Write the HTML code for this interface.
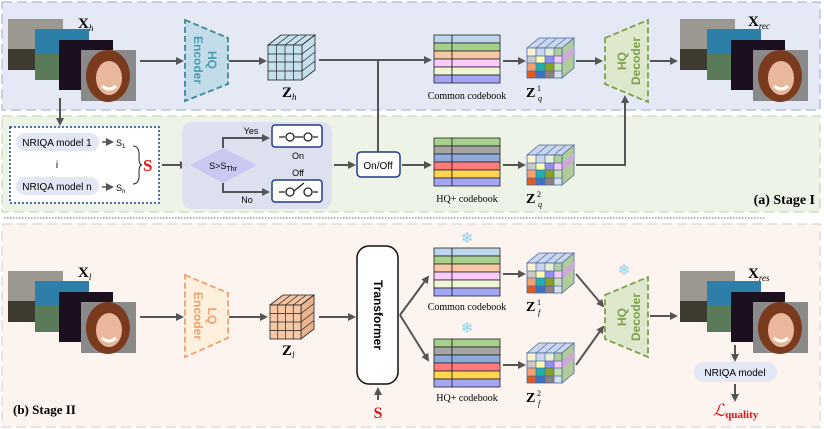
<!DOCTYPE html>
<html><head><meta charset="utf-8"><style>
html,body{margin:0;padding:0;background:#fff}
svg{display:block}
text{font-family:"Liberation Sans",sans-serif}
.serif{font-family:"Liberation Serif",serif}
</style></head><body>
<svg width="824" height="429" viewBox="0 0 824 429" xmlns="http://www.w3.org/2000/svg">
<defs>
<marker id="ar" markerWidth="8" markerHeight="8" refX="6" refY="4" orient="auto" markerUnits="userSpaceOnUse">
<path d="M0,0 L8,4 L0,8 Z" fill="#555"/></marker>
<g id="face">
<rect width="55" height="51" fill="#8a8a8a"/>
<ellipse cx="27" cy="26" rx="22" ry="26" fill="#7a3a1e"/>
<ellipse cx="28" cy="28" rx="13" ry="17" fill="#e9b79c"/>
<path d="M21 36 Q28 42 35 36" stroke="#fff" stroke-width="3" fill="none"/>
</g>
<g id="stack">
<rect x="0" y="0" width="55" height="51" fill="#9a9890"/><rect x="0" y="30" width="27" height="21" fill="#3d3a30"/>
<rect x="27" y="10" width="54" height="51" fill="#2c7fa8"/><rect x="27" y="35" width="54" height="26" fill="#5a7a5a"/>
<rect x="51" y="21" width="54" height="50" fill="#1a1020"/>
<use href="#face" x="73" y="31"/>
</g>
<g id="cb1">
<rect x="0" y="0" width="18" height="8" fill="#bcd5ec" stroke="#222" stroke-width=".8"/><rect x="18" y="0" width="48" height="8" fill="#bcd5ec" stroke="#222" stroke-width=".8"/>
<rect x="0" y="8" width="18" height="8" fill="#a8d08d" stroke="#222" stroke-width=".8"/><rect x="18" y="8" width="48" height="8" fill="#a8d08d" stroke="#222" stroke-width=".8"/>
<rect x="0" y="16" width="18" height="8" fill="#f7c8a6" stroke="#222" stroke-width=".8"/><rect x="18" y="16" width="48" height="8" fill="#f7c8a6" stroke="#222" stroke-width=".8"/>
<rect x="0" y="24" width="18" height="8" fill="#f9c9f9" stroke="#222" stroke-width=".8"/><rect x="18" y="24" width="48" height="8" fill="#f9c9f9" stroke="#222" stroke-width=".8"/>
<rect x="0" y="32" width="18" height="8" fill="#eef5d5" stroke="#222" stroke-width=".8"/><rect x="18" y="32" width="48" height="8" fill="#eef5d5" stroke="#222" stroke-width=".8"/>
<rect x="0" y="40" width="18" height="8" fill="#a5a5f5" stroke="#222" stroke-width=".8"/><rect x="18" y="40" width="48" height="8" fill="#a5a5f5" stroke="#222" stroke-width=".8"/>
</g>
<g id="cb2">
<rect x="0" y="0" width="18" height="8" fill="#a8d08d" stroke="#222" stroke-width=".8"/><rect x="18" y="0" width="48" height="8" fill="#a8d08d" stroke="#222" stroke-width=".8"/>
<rect x="0" y="8" width="18" height="8" fill="#a5a5a5" stroke="#222" stroke-width=".8"/><rect x="18" y="8" width="48" height="8" fill="#a5a5a5" stroke="#222" stroke-width=".8"/>
<rect x="0" y="16" width="18" height="8" fill="#8eaadb" stroke="#222" stroke-width=".8"/><rect x="18" y="16" width="48" height="8" fill="#8eaadb" stroke="#222" stroke-width=".8"/>
<rect x="0" y="24" width="18" height="8" fill="#ff7b7b" stroke="#222" stroke-width=".8"/><rect x="18" y="24" width="48" height="8" fill="#ff7b7b" stroke="#222" stroke-width=".8"/>
<rect x="0" y="32" width="18" height="8" fill="#ffd54f" stroke="#222" stroke-width=".8"/><rect x="18" y="32" width="48" height="8" fill="#ffd54f" stroke="#222" stroke-width=".8"/>
<rect x="0" y="40" width="18" height="8" fill="#a5a5f5" stroke="#222" stroke-width=".8"/><rect x="18" y="40" width="48" height="8" fill="#a5a5f5" stroke="#222" stroke-width=".8"/>
</g>
<g id="qcube">
<path d="M0,10 L12,0 L47,0 L35,10 Z" fill="#c9d6ee" stroke="#4a6a9a" stroke-width=".8"/>
<path d="M9,10L21,0M18,10L30,0M27,10L39,0" stroke="#4a6a9a" stroke-width=".7"/>
<path d="M35,10 L47,0 L47,30 L35,40 Z" fill="#b0cc9a" stroke="#4a6a9a" stroke-width=".8"/>
<path d="M35,18 L47,8 L47,16 L35,26Z" fill="#d0a8d8"/>
<rect x="0" y="10" width="9" height="8" fill="#fdf3d0"/><rect x="9" y="10" width="9" height="8" fill="#c9d6ee"/><rect x="18" y="10" width="9" height="8" fill="#e6ecd8"/><rect x="27" y="10" width="8" height="8" fill="#b0cc9a"/>
<rect x="0" y="18" width="9" height="7" fill="#c8c8c8"/><rect x="9" y="18" width="9" height="7" fill="#ffffb0"/><rect x="18" y="18" width="9" height="7" fill="#9090f0"/><rect x="27" y="18" width="8" height="7" fill="#f9c9f9"/>
<rect x="0" y="25" width="9" height="8" fill="#f4a070"/><rect x="9" y="25" width="9" height="8" fill="#20b0b0"/><rect x="18" y="25" width="9" height="8" fill="#8aa020"/><rect x="27" y="25" width="8" height="8" fill="#c8e0b8"/>
<rect x="0" y="33" width="9" height="7" fill="#e05a20"/><rect x="9" y="33" width="9" height="7" fill="#4070c0"/><rect x="18" y="33" width="9" height="7" fill="#908080"/><rect x="27" y="33" width="8" height="7" fill="#d8e0f0"/>
<path d="M0,18H35M0,25H35M0,33H35M9,10V40M18,10V40M27,10V40" stroke="#4a6a9a" stroke-width=".7"/>
<rect x="0" y="10" width="35" height="30" fill="none" stroke="#4a6a9a" stroke-width=".8"/>
</g>
</defs>

<!-- panels -->
<rect x="2" y="2" width="818" height="108" fill="#e5e9f5" stroke="#b8c2da" stroke-width="1.5" stroke-dasharray="10,5"/>
<rect x="2" y="116" width="818" height="96" fill="#eef3e7" stroke="#cfe0bf" stroke-width="1.5" stroke-dasharray="10,5"/>
<line x1="4" y1="218" x2="765" y2="218" stroke="#666" stroke-width="1" stroke-dasharray="1.5,1.5"/>
<rect x="2" y="224" width="818" height="203" fill="#fdf4f0" stroke="#ddd" stroke-width="1.5" stroke-dasharray="10,5"/>

<!-- Stage I top -->
<use href="#stack" x="8" y="19"/>
<text x="78" y="28" class="serif" font-size="15" font-weight="bold">X<tspan font-size="9" font-style="italic" font-weight="normal" dy="3">h</tspan></text>
<line x1="140" y1="61" x2="182" y2="61" stroke="#555" stroke-width="2" marker-end="url(#ar)"/>
<path d="M185,20 L228,38 L228,84 L185,101 Z" fill="#c2dcea" stroke="#3c8a9a" stroke-width="1.8" stroke-dasharray="6,3"/>
<text transform="translate(205,60) rotate(90)" text-anchor="middle" font-size="12" font-weight="bold" fill="#4a9ab0" dy="4"><tspan x="0" dy="-3">HQ</tspan><tspan x="0" dy="14">Encoder</tspan></text>
<line x1="229" y1="61" x2="265" y2="61" stroke="#555" stroke-width="2" marker-end="url(#ar)"/>
<g transform="translate(268,35)">
<path d="M0,10 L13,0 L47,0 L34,10 Z" fill="#c4e0ec" stroke="#222" stroke-width=".8"/>
<path d="M34,10 L47,0 L47,35 L34,45 Z" fill="#c4e0ec" stroke="#222" stroke-width=".8"/>
<rect x="0" y="10" width="34" height="35" fill="#c4e0ec" stroke="#222" stroke-width=".8"/>
<path d="M0,19H34M0,27H34M0,36H34M8.5,10V45M17,10V45M25.5,10V45M8.5,10L21.5,0M17,10L30,0M25.5,10L38.5,0M34,19L47,9M34,27L47,17M34,36L47,26" stroke="#222" stroke-width=".7"/>
</g>
<text x="282" y="97" class="serif" font-size="15" font-weight="bold">Z<tspan font-size="9" font-style="italic" font-weight="normal" dy="3">h</tspan></text>
<line x1="319" y1="60" x2="430" y2="60" stroke="#555" stroke-width="2" marker-end="url(#ar)"/>
<line x1="378" y1="60" x2="378" y2="152" stroke="#555" stroke-width="2"/>
<use href="#cb1" x="434" y="35"/>
<text x="467" y="99" text-anchor="middle" class="serif" font-size="10">Common codebook</text>
<line x1="503" y1="61" x2="524" y2="61" stroke="#555" stroke-width="2" marker-end="url(#ar)"/>
<use href="#qcube" x="527" y="38"/>
<text x="526" y="97" class="serif" font-size="14" font-weight="bold">Z</text><text x="537" y="91" class="serif" font-size="8">1</text><text x="538" y="101" class="serif" font-size="8" font-style="italic">q</text>
<line x1="576" y1="61" x2="601" y2="61" stroke="#555" stroke-width="2" marker-end="url(#ar)"/>
<path d="M605,38 L648,20 L648,102 L605,84 Z" fill="#dde8cc" stroke="#7ea04a" stroke-width="1.8" stroke-dasharray="6,3"/>
<text transform="translate(629,61) rotate(-90)" text-anchor="middle" font-size="12" font-weight="bold" fill="#7ea04a" dy="4"><tspan x="0" dy="-3">HQ</tspan><tspan x="0" dy="14">Decoder</tspan></text>
<line x1="650" y1="61" x2="676" y2="61" stroke="#555" stroke-width="2" marker-end="url(#ar)"/>
<use href="#stack" x="680" y="19"/>
<text x="748" y="26" class="serif" font-size="15" font-weight="bold">X<tspan font-size="9" font-style="italic" font-weight="normal" dy="3">rec</tspan></text>

<!-- Stage I bottom -->
<line x1="60" y1="98" x2="60" y2="124" stroke="#555" stroke-width="2" marker-end="url(#ar)"/>
<rect x="10" y="127" width="149" height="76" fill="#fff" stroke="#1f3d8a" stroke-width="1.5" stroke-dasharray="2,2"/>
<rect x="16" y="133" width="83" height="18" rx="9" fill="#e3e6f3"/>
<text x="57" y="146" text-anchor="middle" font-size="10">NRIQA model 1</text>
<line x1="102" y1="142" x2="112" y2="142" stroke="#555" stroke-width="1.5" marker-end="url(#ar)"/>
<text x="116" y="146" font-size="9">S<tspan font-size="6" dy="2">1</tspan></text>
<text x="57" y="168" text-anchor="middle" font-size="10">i</text>
<rect x="16" y="177" width="83" height="18" rx="9" fill="#e3e6f3"/>
<text x="57" y="190" text-anchor="middle" font-size="10">NRIQA model n</text>
<line x1="102" y1="187" x2="112" y2="187" stroke="#555" stroke-width="1.5" marker-end="url(#ar)"/>
<text x="116" y="191" font-size="9">S<tspan font-size="6" dy="2">n</tspan></text>
<path d="M133,146 Q140,146 139,158 Q139,165 142,165 Q139,165 139,172 Q140,184 133,184" fill="none" stroke="#222" stroke-width="1"/>
<text x="143" y="171" class="serif" font-size="17" font-weight="bold" fill="#e01818">S</text>
<line x1="162" y1="165" x2="186" y2="165" stroke="#555" stroke-width="2" marker-end="url(#ar)"/>
<rect x="182" y="122" width="150" height="87" rx="10" fill="#dde1ef"/>
<path d="M190,165 L223,148 L257,165 L223,183 Z" fill="#c8c8f0"/>
<text x="223" y="169" text-anchor="middle" font-size="9">S&gt;S<tspan font-size="7" dy="2">Thr</tspan></text>
<path d="M223,148 V138 H268" fill="none" stroke="#555" stroke-width="2" marker-end="url(#ar)"/>
<path d="M223,183 V192 H268" fill="none" stroke="#555" stroke-width="2" marker-end="url(#ar)"/>
<text x="251" y="134" text-anchor="middle" font-size="9">Yes</text>
<text x="247" y="203" text-anchor="middle" font-size="9">No</text>
<rect x="272" y="125" width="50" height="22" rx="3" fill="#fff" stroke="#1f3d8a" stroke-width="1.5"/>
<path d="M279,137 H285 M295,137 H303 M313,137 H318" stroke="#222" stroke-width="1.3"/><circle cx="290" cy="137" r="4" fill="none" stroke="#222" stroke-width="1.3"/><circle cx="308" cy="137" r="4" fill="none" stroke="#222" stroke-width="1.3"/>
<text x="298" y="159" text-anchor="middle" font-size="9">On</text>
<text x="298" y="176" text-anchor="middle" font-size="9">Off</text>
<rect x="272" y="180" width="50" height="22" rx="3" fill="#fff" stroke="#1f3d8a" stroke-width="1.5"/>
<path d="M279,192 H285 M294,191 L304,183 M313,192 H318" stroke="#222" stroke-width="1.3"/><circle cx="290" cy="192" r="4" fill="none" stroke="#222" stroke-width="1.3"/><circle cx="308" cy="192" r="4" fill="none" stroke="#222" stroke-width="1.3"/>
<line x1="334" y1="165" x2="354" y2="165" stroke="#555" stroke-width="2" marker-end="url(#ar)"/>
<rect x="357" y="152" width="43" height="25" rx="4" fill="#fff" stroke="#1f3d8a" stroke-width="1.5"/>
<text x="378" y="169" text-anchor="middle" font-size="10">On/Off</text>
<line x1="402" y1="165" x2="430" y2="165" stroke="#555" stroke-width="2" marker-end="url(#ar)"/>
<use href="#cb2" x="434" y="138"/>
<text x="467" y="202" text-anchor="middle" class="serif" font-size="10">HQ+ codebook</text>
<line x1="503" y1="165" x2="524" y2="165" stroke="#555" stroke-width="2" marker-end="url(#ar)"/>
<use href="#qcube" x="527" y="145"/>
<text x="526" y="203" class="serif" font-size="14" font-weight="bold">Z</text><text x="537" y="197" class="serif" font-size="8">2</text><text x="538" y="207" class="serif" font-size="8" font-style="italic">q</text>
<path d="M576,165 H625 V97" fill="none" stroke="#555" stroke-width="2" marker-end="url(#ar)"/>
<text x="815" y="204" text-anchor="end" class="serif" font-size="14" font-weight="bold">(a) Stage I</text>

<!-- Stage II -->
<use href="#stack" x="8" y="271"/>
<text x="78" y="277" class="serif" font-size="15" font-weight="bold">X<tspan font-size="9" font-style="italic" font-weight="normal" dy="3">l</tspan></text>
<line x1="140" y1="317" x2="182" y2="317" stroke="#555" stroke-width="2" marker-end="url(#ar)"/>
<path d="M185,275 L228,293 L228,338 L185,357 Z" fill="#fdf0dc" stroke="#f0a070" stroke-width="1.8" stroke-dasharray="6,3"/>
<text transform="translate(205,316) rotate(90)" text-anchor="middle" font-size="12" font-weight="bold" fill="#f0a070" dy="4"><tspan x="0" dy="-3">LQ</tspan><tspan x="0" dy="14">Encoder</tspan></text>
<line x1="229" y1="317" x2="266" y2="317" stroke="#555" stroke-width="2" marker-end="url(#ar)"/>
<g transform="translate(270,295)">
<path d="M0,10 L13,0 L44,0 L31,10 Z" fill="#f4c4a0" stroke="#222" stroke-width=".8"/>
<path d="M31,10 L44,0 L44,34 L31,44 Z" fill="#e8b490" stroke="#222" stroke-width=".8"/>
<rect x="0" y="10" width="31" height="34" fill="#f6c8a6" stroke="#222" stroke-width=".8"/>
<path d="M0,18.5H31M0,27H31M0,35.5H31M7.75,10V44M15.5,10V44M23.25,10V44M7.75,10L20.75,0M15.5,10L28.5,0M23.25,10L36.25,0M31,18.5L44,8.5M31,27L44,17M31,35.5L44,25.5" stroke="#222" stroke-width=".7"/>
</g>
<text x="282" y="355" class="serif" font-size="15" font-weight="bold">Z<tspan font-size="9" font-style="italic" font-weight="normal" dy="3">l</tspan></text>
<line x1="319" y1="317" x2="354" y2="317" stroke="#555" stroke-width="2" marker-end="url(#ar)"/>
<rect x="357" y="246" width="41" height="138" rx="12" fill="#fff" stroke="#111" stroke-width="1.5"/>
<text transform="translate(378,315) rotate(90)" text-anchor="middle" font-size="12" font-weight="bold" dy="4">Transformer</text>
<line x1="378" y1="400" x2="378" y2="389" stroke="#555" stroke-width="2" marker-end="url(#ar)"/>
<text x="378" y="418" text-anchor="middle" class="serif" font-size="16" font-weight="bold" fill="#e01818">S</text>
<path d="M400,315 L428,277" fill="none" stroke="#555" stroke-width="2" marker-end="url(#ar)"/>
<path d="M400,315 L428,360" fill="none" stroke="#555" stroke-width="2" marker-end="url(#ar)"/>
<use href="#cb1" x="434" y="248"/>
<text x="467" y="310" text-anchor="middle" class="serif" font-size="10">Common codebook</text>
<use href="#cb2" x="434" y="339"/>
<text x="467" y="401" text-anchor="middle" class="serif" font-size="10">HQ+ codebook</text>
<text x="467" y="243" text-anchor="middle" font-size="15" fill="#8fd0e8" font-family="DejaVu Sans">❄</text>
<text x="467" y="333" text-anchor="middle" font-size="15" fill="#8fd0e8" font-family="DejaVu Sans">❄</text>
<text x="624" y="275" text-anchor="middle" font-size="15" fill="#8fd0e8" font-family="DejaVu Sans">❄</text>
<line x1="503" y1="274" x2="524" y2="274" stroke="#555" stroke-width="2" marker-end="url(#ar)"/>
<use href="#qcube" x="527" y="253"/>
<text x="526" y="311" class="serif" font-size="14" font-weight="bold">Z</text><text x="537" y="305" class="serif" font-size="8">1</text><text x="538" y="315" class="serif" font-size="8" font-style="italic">f</text>
<line x1="503" y1="365" x2="524" y2="365" stroke="#555" stroke-width="2" marker-end="url(#ar)"/>
<use href="#qcube" x="527" y="343"/>
<text x="526" y="402" class="serif" font-size="14" font-weight="bold">Z</text><text x="537" y="396" class="serif" font-size="8">2</text><text x="538" y="406" class="serif" font-size="8" font-style="italic">f</text>
<line x1="576" y1="274" x2="603" y2="306" stroke="#555" stroke-width="2" marker-end="url(#ar)"/>
<line x1="576" y1="365" x2="603" y2="327" stroke="#555" stroke-width="2" marker-end="url(#ar)"/>
<path d="M605,295 L648,277 L648,357 L605,339 Z" fill="#dde8cc" stroke="#7ea04a" stroke-width="1.8" stroke-dasharray="6,3"/>
<text transform="translate(629,317) rotate(-90)" text-anchor="middle" font-size="12" font-weight="bold" fill="#7ea04a" dy="4"><tspan x="0" dy="-3">HQ</tspan><tspan x="0" dy="14">Decoder</tspan></text>
<line x1="650" y1="316" x2="676" y2="316" stroke="#555" stroke-width="2" marker-end="url(#ar)"/>
<use href="#stack" x="680" y="271"/>
<text x="748" y="278" class="serif" font-size="15" font-weight="bold">X<tspan font-size="9" font-style="italic" font-weight="normal" dy="3">res</tspan></text>
<line x1="735" y1="345" x2="735" y2="360" stroke="#555" stroke-width="2" marker-end="url(#ar)"/>
<rect x="694" y="362" width="83" height="20" rx="10" fill="#e3e6f3"/>
<text x="735" y="376" text-anchor="middle" font-size="10">NRIQA model</text>
<line x1="735" y1="384" x2="735" y2="400" stroke="#555" stroke-width="2" marker-end="url(#ar)"/>
<text x="713" y="416" class="serif" font-size="17" font-style="italic" fill="#e01818">ℒ<tspan font-size="11" font-style="normal" font-weight="bold" dy="2">quality</tspan></text>
<text x="13" y="414" class="serif" font-size="13" font-weight="bold">(b) Stage II</text>
</svg>
</body></html>
